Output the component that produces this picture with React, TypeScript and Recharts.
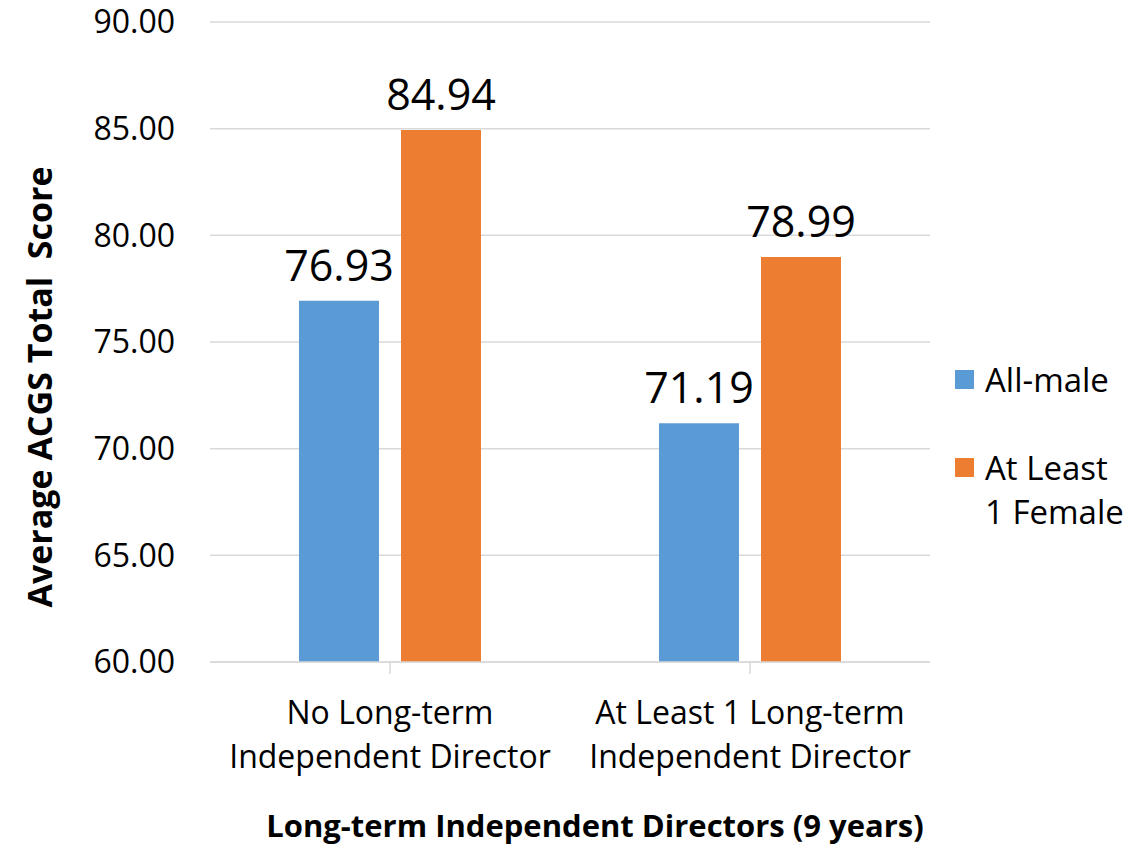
import { BarChart, Bar, XAxis, YAxis, CartesianGrid, LabelList } from 'recharts'

const categories = [
  ['No Long-term', 'Independent Director'],
  ['At Least 1 Long-term', 'Independent Director'],
]
const allMale = [76.93, 71.19]
const atLeastOneFemale = [84.94, 78.99]
const yTicks = [60, 65, 70, 75, 80, 85, 90]

const data = categories.map((lines, i) => ({
  name: lines.join(' '),
  lines,
  allMale: allMale[i],
  female: atLeastOneFemale[i],
}))

const FONT = '"Open Sans", "Noto Sans", sans-serif'
const BLUE = '#5B9BD5'
const ORANGE = '#ED7D31'
const AXIS_GREY = '#d9d9d9'

const CategoryTick = (props: any) => {
  const { x, y, payload, index } = props
  const lines = data[index]?.lines ?? [payload.value]
  return (
    <g>
      {lines.map((t: string, i: number) => (
        <text
          key={i}
          x={x}
          y={y + 48 + i * 44}
          textAnchor="middle"
          fontSize={32}
          fontFamily={FONT}
          fill="#000"
        >
          {t}
        </text>
      ))}
    </g>
  )
}

const Legend = () => (
  <div
    style={{
      position: 'absolute',
      left: 955,
      top: 358,
      fontFamily: FONT,
      fontSize: 33,
      color: '#000',
      lineHeight: '44px',
    }}
  >
    <div style={{ display: 'flex', alignItems: 'flex-start', marginBottom: 44 }}>
      <span style={{ flex: 'none', width: 19, height: 19, background: BLUE, marginTop: 12, marginRight: 11 }} />
      <span>All-male</span>
    </div>
    <div style={{ display: 'flex', alignItems: 'flex-start' }}>
      <span style={{ flex: 'none', width: 19, height: 19, background: ORANGE, marginTop: 12, marginRight: 11 }} />
      <span>
        At Least
        <br />1 Female
      </span>
    </div>
  </div>
)

const valueLabelStyle = { fontSize: 43, fontFamily: FONT, fill: '#000' }

export default function App() {
  return (
    <div style={{ position: 'absolute', left: 0, top: 0, width: 1146, height: 847, background: '#fff' }}>
      <BarChart
        width={1146}
        height={847}
        data={data}
        margin={{ top: 22, right: 216, left: 0, bottom: 0 }}
        barSize={80}
        barGap={22}
      >
        <CartesianGrid vertical={false} stroke={AXIS_GREY} strokeWidth={1.5} />
        <XAxis
          dataKey="name"
          height={185}
          stroke={AXIS_GREY}
          strokeWidth={1.5}
          tickSize={12}
          interval={0}
          tick={<CategoryTick />}
          label={{
            content: () => (
              <text
                x={595}
                y={837}
                textAnchor="middle"
                fontSize={31}
                fontWeight="bold"
                fontFamily={FONT}
                fill="#000"
              >
                Long-term Independent Directors (9 years)
              </text>
            ),
          }}
        />
        <YAxis
          width={210}
          domain={[60, 90]}
          ticks={yTicks}
          axisLine={false}
          tickLine={false}
          tickMargin={29}
          tickFormatter={(v: number) => v.toFixed(2)}
          tick={{ fontSize: 32, fontFamily: FONT, fill: '#000' }}
          label={{
            content: () => (
              <text
                x={52}
                y={387}
                transform="rotate(-90 52 387)"
                textAnchor="middle"
                fontSize={34}
                fontWeight="bold"
                fontFamily={FONT}
                fill="#000"
                style={{ whiteSpace: 'pre' }}
              >
                Average ACGS Total  Score
              </text>
            ),
          }}
        />
        <Bar dataKey="allMale" fill={BLUE} isAnimationActive={false}>
          <LabelList
            dataKey="allMale"
            position="top"
            offset={20}
            formatter={(v: number) => v.toFixed(2)}
            style={valueLabelStyle}
          />
        </Bar>
        <Bar dataKey="female" fill={ORANGE} isAnimationActive={false}>
          <LabelList
            dataKey="female"
            position="top"
            offset={20}
            formatter={(v: number) => v.toFixed(2)}
            style={valueLabelStyle}
          />
        </Bar>
      </BarChart>
      <Legend />
    </div>
  )
}
